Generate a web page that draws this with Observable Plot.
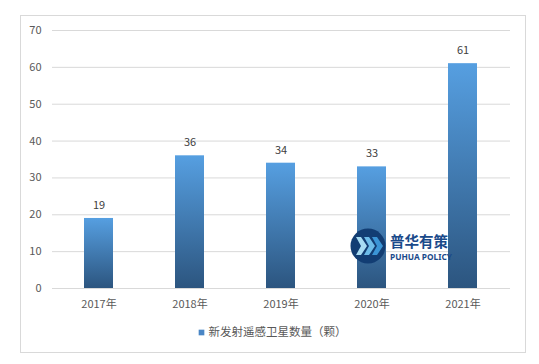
<!DOCTYPE html>
<html><head><meta charset="utf-8">
<script src="https://cdn.jsdelivr.net/npm/d3@7"></script>
<script src="https://cdn.jsdelivr.net/npm/@observablehq/plot@0.6"></script>
<style>
html,body{margin:0;padding:0;background:#fff;}
#wrap{position:relative;width:539px;height:364px;overflow:hidden;font-family:"Noto Sans CJK SC","Noto Sans",sans-serif;}
#border{position:absolute;left:20px;top:15px;width:504px;height:336px;border:1px solid #d9d9d9;}
#chart{position:absolute;left:0;top:0;}
#logo{position:absolute;left:349px;top:228px;width:110px;height:40px;}
</style></head>
<body><div id="wrap"><div id="border"></div><div id="chart"></div>
<svg id="logo" width="110" height="40" viewBox="0 0 110 40">
  <circle cx="19" cy="18" r="17.5" fill="#123d73"/>
  <path d="M7 9 L12 9 L18 18 L12 27 L7 27 L12 18 Z" fill="#a8dcf3"/>
  <path d="M15 9 L20 9 L26 18 L20 27 L15 27 L20 18 Z" fill="#6cbbe8"/>
  <path d="M23 9 L28 9 L34 18 L28 27 L23 27 L28 18 Z" fill="#3b95d6"/>
  <text x="41" y="19" font-size="14.5" font-weight="bold" fill="#1a4a8a" font-family="Noto Sans CJK SC">普华有策</text>
  <text x="41" y="32" font-size="8.3" font-weight="bold" fill="#1a4a8a" font-family="Noto Sans">PUHUA POLICY</text>
</svg>
</div>
<script>
const years = ["2017年","2018年","2019年","2020年","2021年"];
const values = [19, 36, 34, 33, 61];
const yTicks = [0,10,20,30,40,50,60,70];
const seriesName = "新发射遥感卫星数量（颗）";

const data = years.map((y,i)=>({year:y, value:values[i]}));

const gradient = () => {
  const svg = d3.create("svg:defs");
  const g = svg.append("linearGradient").attr("id","barGrad").attr("x1","0").attr("y1","0").attr("x2","0").attr("y2","1");
  g.append("stop").attr("offset","0%").attr("stop-color","#569fe1");
  g.append("stop").attr("offset","100%").attr("stop-color","#2c557f");
  return svg.node();
};

const chart = Plot.plot({
  width: 539,
  height: 364,
  marginLeft: 52,
  marginRight: 29,
  marginTop: 30,
  marginBottom: 76,
  style: {fontFamily: '"Noto Sans CJK SC","Noto Sans",sans-serif', fontSize: "11px", color: "#595959", background: "transparent"},
  x: {domain: years, paddingInner: 0.68, paddingOuter: 0.34, label: null, tickSize: 0, tickPadding: 11},
  y: {domain: [0,70], ticks: yTicks, label: null, tickSize: 0, tickPadding: 11},
  marks: [
    gradient,
    Plot.gridY(yTicks, {stroke: "#d9d9d9", strokeOpacity: 1}),
    Plot.barY(data, {x: "year", y: "value", fill: "url(#barGrad)"}),
    Plot.text(data, {x: "year", y: "value", text: d => String(d.value), dy: -13, fill: "#404040", fontSize: 11}),
    Plot.axisX({tickSize: 0, tickPadding: 12, fontSize: 11, fill: "#595959"}),
    Plot.axisY(yTicks, {tickSize: 0, tickPadding: 11, fontSize: 11, fill: "#595959"}),
    Plot.dot([seriesName], {frameAnchor: "bottom", dx: -80, dy: 44, symbol: "square", r: 3.2, fill: "#4a86c5"}),
    Plot.text([seriesName], {frameAnchor: "bottom", lineAnchor: "middle", dx: -73, dy: 44, text: d => d, textAnchor: "start", fill: "#595959", fontSize: 11.5})
  ]
});
document.getElementById("chart").appendChild(chart);
</script>
</body></html>
